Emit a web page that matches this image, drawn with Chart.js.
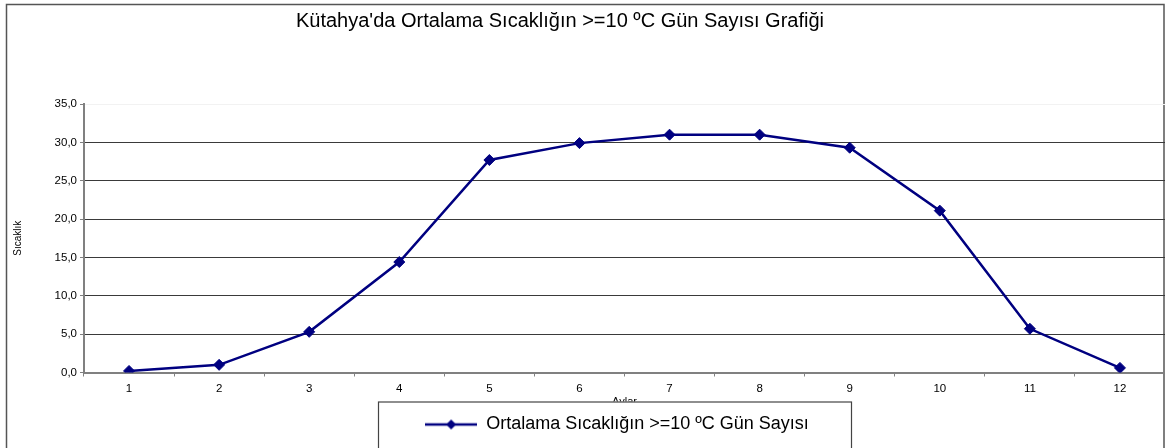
<!DOCTYPE html>
<html lang="tr">
<head>
    <meta charset="UTF-8">
    <title>Kütahya - Ortalama Sıcaklığın >=10 ºC Gün Sayısı</title>
    <script src="https://cdn.jsdelivr.net/npm/chart.js"></script>
    <style>
        html, body {
            margin: 0;
            padding: 0;
            background: #ffffff;
        }
        .chart-box {
            width: 1165px;
            height: 448px;
        }
    </style>
</head>
<body>
    <div class="chart-box">
        <canvas id="gunChart"></canvas>
    </div>

    <script>
        // Aylar (1-12) ve ortalama sıcaklığın >=10 ºC olduğu gün sayısı
        const months = ["1", "2", "3", "4", "5", "6", "7", "8", "9", "10", "11", "12"];
        const daysAbove10 = [0.2, 1.0, 5.3, 14.4, 27.7, 29.9, 31.0, 31.0, 29.3, 21.1, 5.7, 0.6];
        const seriesName = "Ortalama Sıcaklığın >=10 ºC Gün Sayısı";
        const chartTitle = "Kütahya'da Ortalama Sıcaklığın >=10 ºC Gün Sayısı Grafiği";
        const yTitle = "Sıcaklık";
        const xTitle = "Aylar";

        const navy = "#000080";
        const font = "Arial, 'Liberation Sans', sans-serif";

        // legend icon: line with a diamond in the middle
        const legendIcon = document.createElement("canvas");
        legendIcon.width = 52;
        legendIcon.height = 14;
        const ic = legendIcon.getContext("2d");
        ic.strokeStyle = navy;
        ic.lineWidth = 2.5;
        ic.beginPath();
        ic.moveTo(0, 7);
        ic.lineTo(52, 7);
        ic.stroke();
        ic.fillStyle = navy;
        ic.beginPath();
        ic.moveTo(26, 2);
        ic.lineTo(31, 7);
        ic.lineTo(26, 12);
        ic.lineTo(21, 7);
        ic.closePath();
        ic.fill();

        // outer frame, title / legend placement, boxed legend
        const framePlugin = {
            id: "frame",
            beforeDraw(chart) {
                const c = chart.ctx;
                c.save();
                c.fillStyle = "#ffffff";
                c.fillRect(0, 0, chart.width, chart.height);
                c.strokeStyle = "#555555";
                c.lineWidth = 1.5;
                c.strokeRect(6.5, 4.5, chart.width - 7.5, chart.height + 20);
                c.restore();
            },
            afterLayout(chart) {
                const t = chart.titleBlock;
                const tdx = 560 - (t.left + t.right) / 2;
                t.left += tdx;
                t.right += tdx;
                const lg = chart.legend;
                const ldx = 617 - (lg.left + lg.right) / 2;
                lg.left += ldx;
                lg.right += ldx;
            },
            afterDraw(chart) {
                const lg = chart.legend;
                const cx = 615;
                const c = chart.ctx;
                c.save();
                c.fillStyle = "#ffffff";
                c.fillRect(cx - 236, lg.top, 473, chart.height);
                c.strokeStyle = "#444444";
                c.lineWidth = 1.2;
                c.strokeRect(cx - 236.5, lg.top + 0.5, 473, chart.height);
                c.restore();
                lg.draw();
            }
        };

        new Chart(document.getElementById("gunChart"), {
            type: "line",
            data: {
                labels: months,
                datasets: [{
                    label: seriesName,
                    data: daysAbove10,
                    borderColor: navy,
                    backgroundColor: navy,
                    borderWidth: 2.5,
                    pointStyle: "rectRot",
                    pointRadius: 5.5,
                    pointBorderWidth: 1,
                    tension: 0
                }]
            },
            options: {
                responsive: true,
                maintainAspectRatio: false,
                animation: false,
                layout: {
                    autoPadding: false,
                    padding: { left: 6, right: 0, top: 0, bottom: 4.5 }
                },
                plugins: {
                    title: {
                        display: true,
                        text: chartTitle,
                        color: "#000000",
                        font: { family: font, size: 20, weight: "normal" },
                        padding: { top: 9, bottom: 71 }
                    },
                    legend: {
                        position: "bottom",
                        labels: {
                            color: "#000000",
                            font: { family: font, size: 18 },
                            usePointStyle: true,
                            pointStyleWidth: 52,
                            padding: 14,
                            generateLabels: (chart) => [{
                                text: seriesName,
                                pointStyle: legendIcon,
                                fillStyle: navy,
                                strokeStyle: navy,
                                lineWidth: 0,
                                datasetIndex: 0
                            }]
                        }
                    },
                    tooltip: { enabled: false }
                },
                scales: {
                    x: {
                        type: "category",
                        offset: true,
                        grid: {
                            offset: true,
                            drawOnChartArea: false,
                            drawTicks: true,
                            tickLength: 4,
                            tickColor: "#808080"
                        },
                        border: { color: "#808080", width: 2 },
                        ticks: {
                            color: "#000000",
                            padding: 5,
                            font: { family: font, size: 11.5 }
                        },
                        title: {
                            display: true,
                            text: xTitle,
                            color: "#000000",
                            font: { family: font, size: 11 },
                            padding: { top: -5, bottom: -7 }
                        }
                    },
                    y: {
                        min: 0,
                        max: 35,
                        afterFit: (scale) => { scale.width = 78; },
                        grid: {
                            color: (ctx) => ctx.tick && ctx.tick.value === 35 ? "#f2f2f2" : "#3a3a3a",
                            lineWidth: 1,
                            tickLength: 4,
                            tickColor: "#808080"
                        },
                        border: { color: "#808080", width: 2 },
                        ticks: {
                            stepSize: 5,
                            color: "#000000",
                            padding: 3,
                            font: { family: font, size: 11.5 },
                            callback: (v) => v.toFixed(1).replace(".", ",")
                        },
                        title: {
                            display: true,
                            text: yTitle,
                            color: "#000000",
                            font: { family: font, size: 10 },
                            padding: { top: 6, bottom: 0 }
                        }
                    }
                }
            },
            plugins: [framePlugin]
        });
    </script>
</body>
</html>
